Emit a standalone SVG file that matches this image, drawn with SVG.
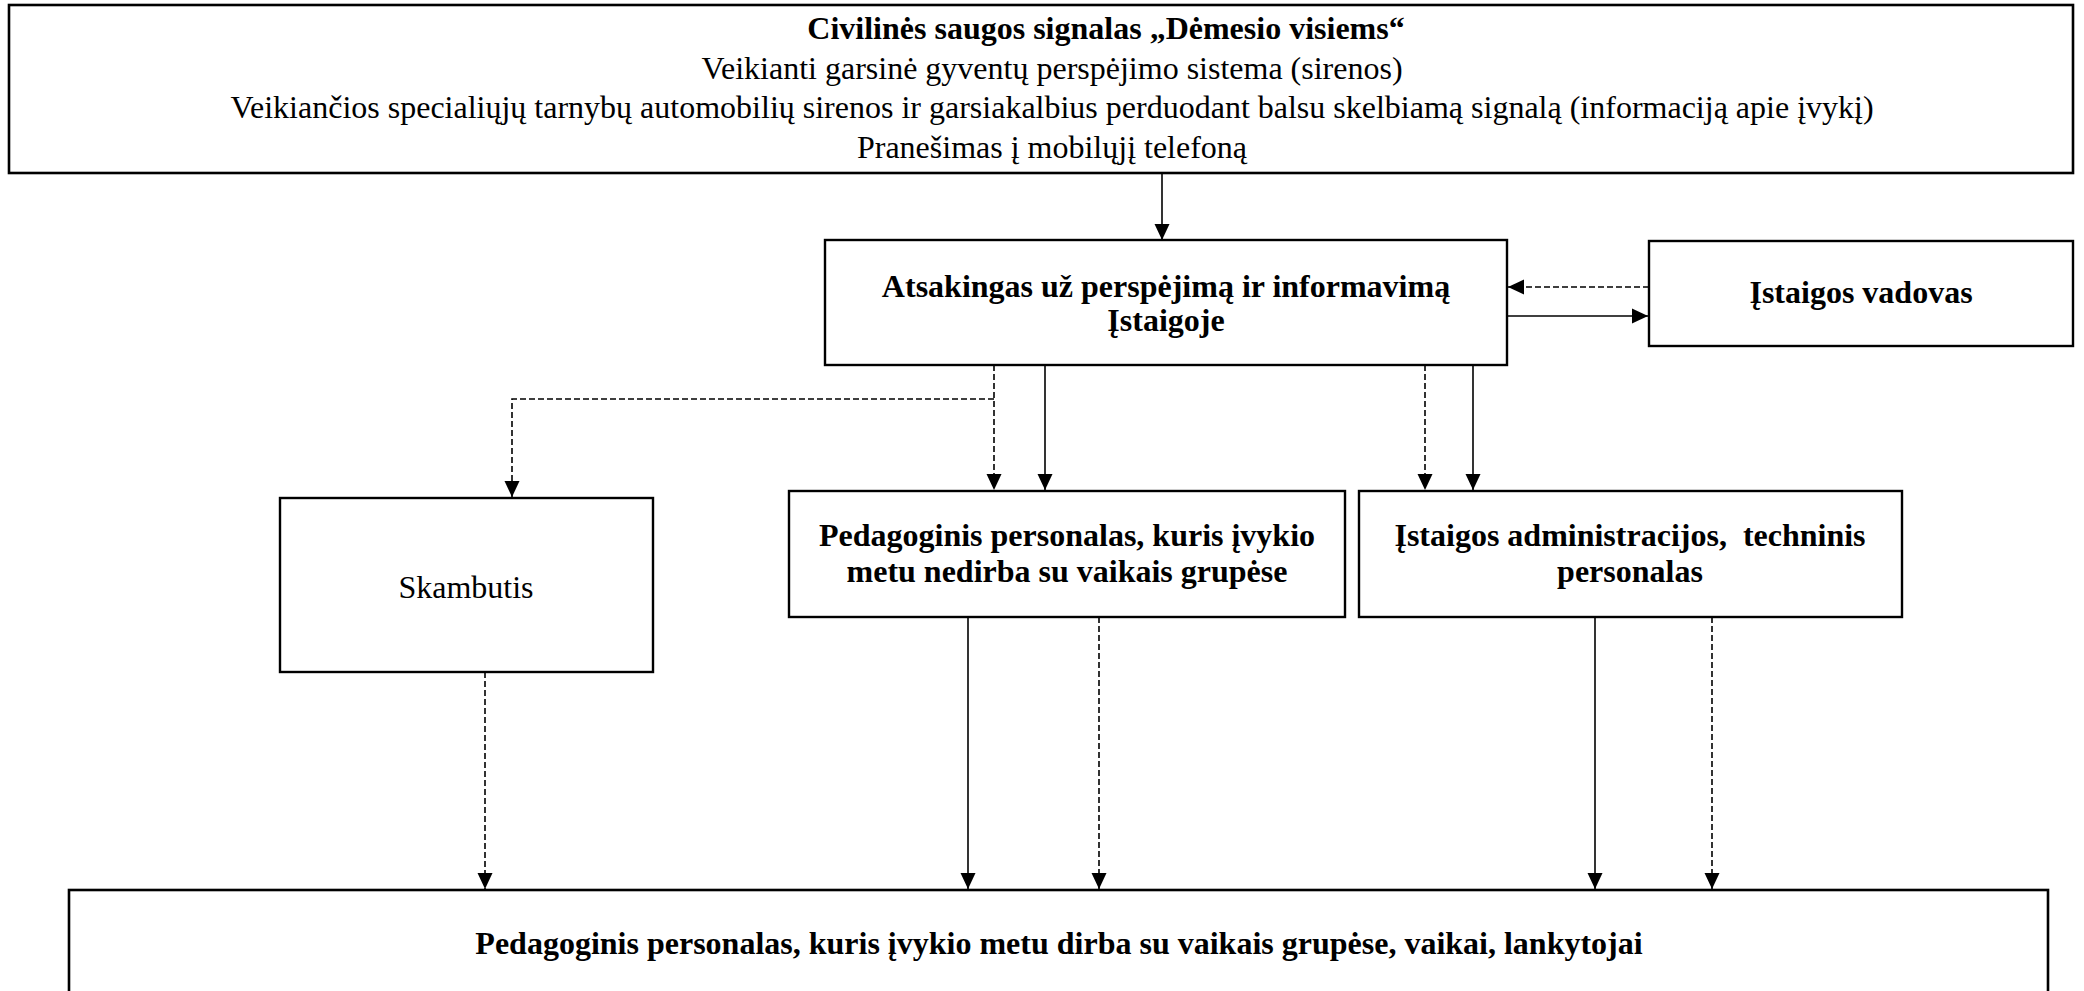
<svg xmlns="http://www.w3.org/2000/svg" width="2084" height="991" viewBox="0 0 2084 991">
<style>
.box{fill:#fff;stroke:#000;stroke-width:2.4}
.t{font-family:"Liberation Serif","Times New Roman",serif;font-size:32px;fill:#000;text-anchor:middle}
.b{font-weight:bold}
.c{fill:none;stroke:#000;stroke-width:1.6}
.d{stroke-dasharray:6 3}
</style>
<defs>
<marker id="ah" markerUnits="userSpaceOnUse" markerWidth="18" markerHeight="16" refX="16" refY="8" orient="auto">
<path d="M0,0.5 L16,8 L0,15.5 z" fill="#000"/>
</marker>
</defs>
<rect width="2084" height="991" fill="#fff"/>
<g id="signal">
<rect class="box" x="9" y="5" width="2064" height="168" style="stroke-width:2.6"/>
<text class="t b" x="1106" y="39">Civilinės saugos signalas „Dėmesio visiems“</text>
<text class="t" x="1052" y="78.5">Veikianti garsinė gyventų perspėjimo sistema (sirenos)</text>
<text class="t" x="1052" y="118">Veikiančios specialiųjų tarnybų automobilių sirenos ir garsiakalbius perduodant balsu skelbiamą signalą (informaciją apie įvykį)</text>
<text class="t" x="1052" y="157.5">Pranešimas į mobilųjį telefoną</text>
</g>
<g id="atsakingas">
<rect class="box" x="825" y="240" width="682" height="125"/>
<text class="t b" x="1166" y="297">Atsakingas už perspėjimą ir informavimą</text>
<text class="t b" x="1166" y="331">Įstaigoje</text>
</g>
<g id="vadovas">
<rect class="box" x="1649" y="241" width="424" height="105"/>
<text class="t b" x="1861" y="303">Įstaigos vadovas</text>
</g>
<g id="skambutis">
<rect class="box" x="280" y="498" width="373" height="174"/>
<text class="t" x="466" y="598">Skambutis</text>
</g>
<g id="pedagoginis-nedirba">
<rect class="box" x="789" y="491" width="556" height="126"/>
<text class="t b" x="1067" y="546">Pedagoginis personalas, kuris įvykio</text>
<text class="t b" x="1067" y="582">metu nedirba su vaikais grupėse</text>
</g>
<g id="administracija">
<rect class="box" x="1359" y="491" width="543" height="126"/>
<text class="t b" x="1630" y="546" xml:space="preserve" style="white-space:pre">Įstaigos administracijos,  techninis</text>
<text class="t b" x="1630" y="582">personalas</text>
</g>
<g id="pedagoginis-dirba">
<rect class="box" x="69" y="890" width="1979" height="120" style="stroke-width:2.6"/>
<text class="t b" x="1059" y="954">Pedagoginis personalas, kuris įvykio metu dirba su vaikais grupėse, vaikai, lankytojai</text>
</g>
<g id="connectors">
<line class="c" x1="1162" y1="173" x2="1162" y2="240" marker-end="url(#ah)"/>
<line class="c d" x1="1649" y1="287" x2="1508" y2="287" marker-end="url(#ah)"/>
<line class="c" x1="1507" y1="316" x2="1648" y2="316" marker-end="url(#ah)"/>
<line class="c d" x1="994" y1="365" x2="994" y2="490" marker-end="url(#ah)"/>
<polyline class="c d" points="994,399 512,399 512,497" marker-end="url(#ah)"/>
<line class="c" x1="1045" y1="365" x2="1045" y2="490" marker-end="url(#ah)"/>
<line class="c d" x1="1425" y1="365" x2="1425" y2="490" marker-end="url(#ah)"/>
<line class="c" x1="1473" y1="365" x2="1473" y2="490" marker-end="url(#ah)"/>
<line class="c d" x1="485" y1="672" x2="485" y2="889" marker-end="url(#ah)"/>
<line class="c" x1="968" y1="617" x2="968" y2="889" marker-end="url(#ah)"/>
<line class="c d" x1="1099" y1="617" x2="1099" y2="889" marker-end="url(#ah)"/>
<line class="c" x1="1595" y1="617" x2="1595" y2="889" marker-end="url(#ah)"/>
<line class="c d" x1="1712" y1="617" x2="1712" y2="889" marker-end="url(#ah)"/>
</g>
</svg>
